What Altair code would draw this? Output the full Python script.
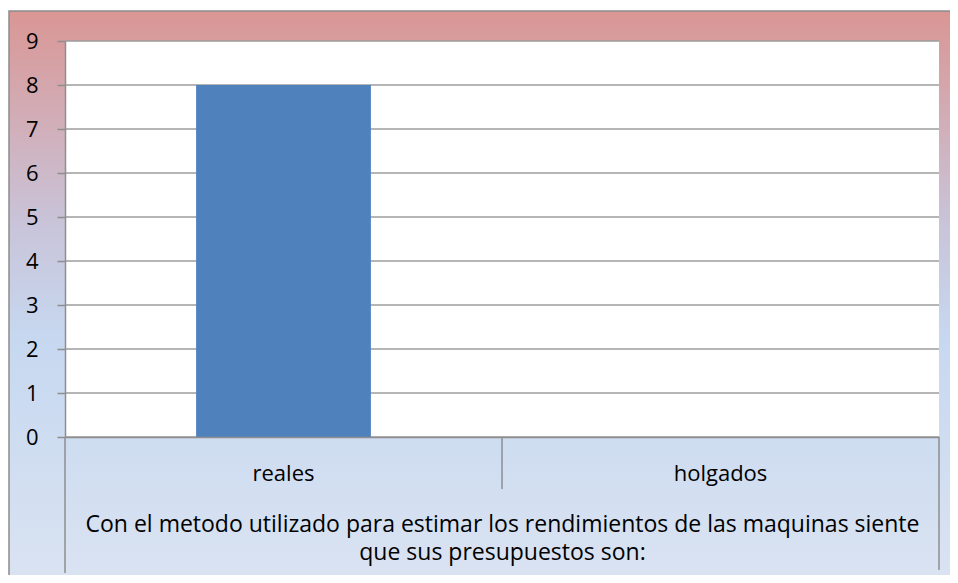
import altair as alt
import pandas as pd

categories = ["reales", "holgados"]
values = [8, 0]
y_ticks = [0, 1, 2, 3, 4, 5, 6, 7, 8, 9]
x_title = ["Con el metodo utilizado para estimar los rendimientos de las maquinas siente",
           "que sus presupuestos son:"]

FONT = "Open Sans"
FS = 22
W, H = 874, 396
GRAY = "#8e8e8e"

bars_df = pd.DataFrame({"cat": categories, "val": values})
grid_df = pd.DataFrame({"v": y_ticks})

x_scale = alt.Scale(domain=categories, paddingInner=0, paddingOuter=0)
y_scale = alt.Scale(domain=[0, 9], nice=False)

y_axis = alt.Axis(values=y_ticks, grid=False, title=None, labelFont=FONT,
                  labelFontSize=FS, labelColor="#000", labelPadding=19,
                  tickSize=8, tickColor=GRAY, tickWidth=1.5,
                  domainColor=GRAY, domainWidth=1.5, zindex=1)

gradient = alt.LinearGradient(
    gradient="linear", x1=0, y1=0, x2=0, y2=1,
    stops=[alt.GradientStop(color="#DA9694", offset=0),
           alt.GradientStop(color="#C9C3D8", offset=0.35),
           alt.GradientStop(color="#C6D8F0", offset=0.55),
           alt.GradientStop(color="#DCE4F2", offset=1)])

bg = alt.Chart(bars_df).mark_rect(clip=False, fill=gradient, stroke="#8c8c8c", strokeWidth=1.5).encode(
    x=alt.value(-56), x2=alt.value(W + 40), y=alt.value(-30), y2=alt.value(H + 170)
).transform_filter(alt.datum.cat == "reales")

white = alt.Chart(bars_df).mark_rect(fill="white").encode(
    x=alt.value(0), x2=alt.value(W), y=alt.value(0), y2=alt.value(H)
).transform_filter(alt.datum.cat == "reales")

grid = alt.Chart(grid_df).mark_rule(color="#9c9c9c", strokeWidth=1.5).encode(
    y=alt.Y("v:Q", scale=y_scale, axis=y_axis),
    x=alt.value(0), x2=alt.value(W)
)

bars = alt.Chart(bars_df).mark_bar(color="#4F81BD", width=alt.RelativeBandSize(0.4)).encode(
    x=alt.X("cat:N", scale=x_scale, sort=categories,
            axis=alt.Axis(title=x_title, labelAngle=0, labelFont=FONT, labelFontSize=FS,
                          labelColor="#000", labelPadding=43, labelBaseline="alphabetic",
                          ticks=False, tickSize=0,
                          domainColor=GRAY, domainWidth=1.5,
                          titleFont=FONT, titleFontSize=23, titleFontWeight="normal",
                          titleColor="#000", titleLineHeight=28, titleBaseline="top",
                          titleX=W / 2, titleY=76, titleAnchor="middle", zindex=1)),
    y=alt.Y("val:Q", scale=y_scale, axis=y_axis)
)

def vline(x, y1, y2):
    return alt.Chart(bars_df).mark_rule(color=GRAY, strokeWidth=1.5, clip=False).encode(
        x=alt.value(x), y=alt.value(y1), y2=alt.value(y2)
    ).transform_filter(alt.datum.cat == "reales")

lines = vline(0, H, H + 136) + vline(W / 2, H, H + 52) + vline(W, H, H + 133)

chart = alt.layer(bg, white, grid, bars, lines).properties(
    width=W, height=H,
    autosize=alt.AutoSizeParams(type="none"),
    padding={"left": 57, "top": 33, "right": 11, "bottom": 138},
).configure_view(stroke=None)

chart.save("out.html", embed_options={"renderer": "svg", "actions": False})
